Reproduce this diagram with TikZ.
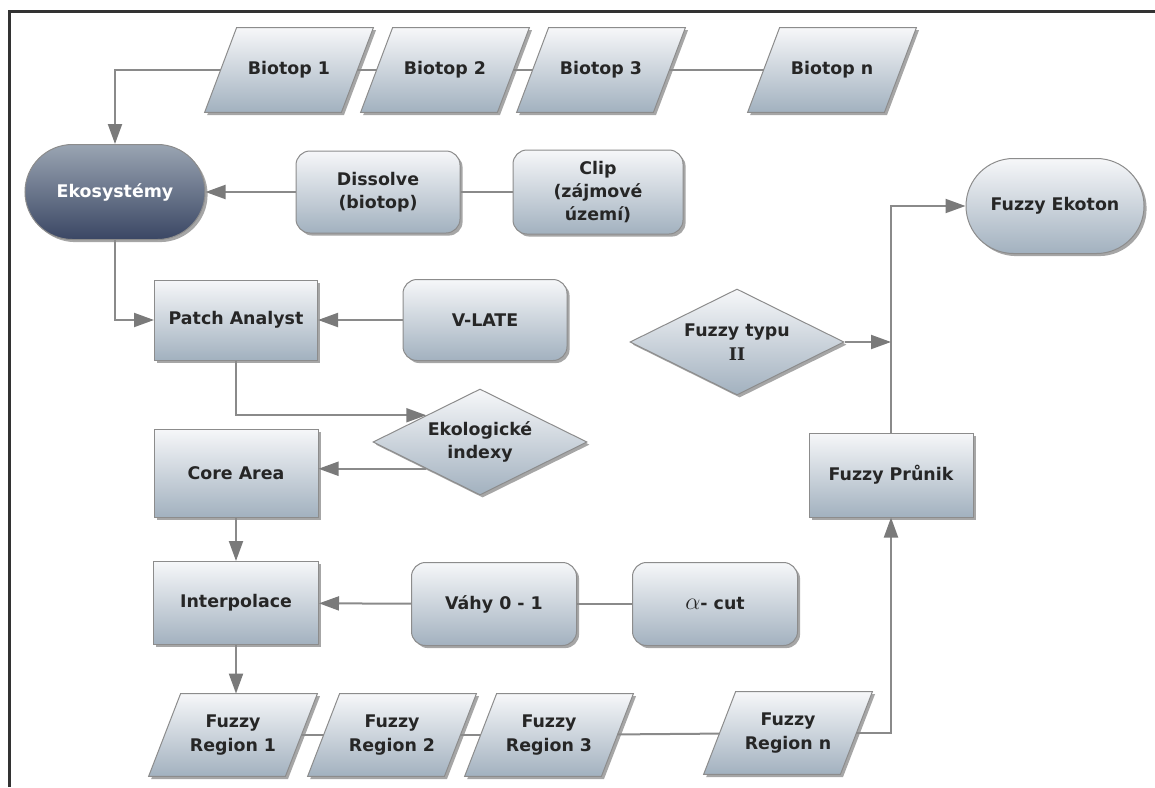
\documentclass[tikz,border=0pt]{standalone}
\usepackage{fontspec}
\setmainfont{DejaVu Sans}
\newfontfamily\serifb{DejaVu Serif}
\usetikzlibrary{shapes.geometric,shapes.misc,shadows,arrows.meta,calc,backgrounds}
\definecolor{boxtop}{HTML}{F6F7F9}
\definecolor{boxbot}{HTML}{A2B1BF}
\definecolor{boxline}{HTML}{8C8C8C}
\definecolor{ekotop}{HTML}{9AA4B2}
\definecolor{ekobot}{HTML}{3A4764}
\definecolor{conncol}{HTML}{8A8A8A}
\definecolor{tipcol}{HTML}{7A7A7A}
\definecolor{framecol}{HTML}{333333}
\begin{document}
\begin{tikzpicture}[x=0.5pt,y=-0.5pt,
  txt/.style={font=\fontsize{8.7}{11.7}\selectfont\bfseries, text=black!85, align=center, inner sep=0pt},
  fillstyle/.style={draw=boxline, line width=0.5pt, top color=boxtop, bottom color=boxbot,
    drop shadow={shadow xshift=1.3pt,shadow yshift=-1.3pt,opacity=0.35,fill=black}},
  base/.style={txt, fillstyle},
  rbox/.style={base, rectangle, rounded corners=7pt, minimum width=82pt, minimum height=41pt},
  sbox/.style={base, rectangle, minimum width=82pt, minimum height=41pt},
  ptext/.style={txt, rectangle, minimum width=68pt, minimum height=42pt},
  dia/.style={base, diamond, aspect=2, minimum width=107pt, minimum height=53pt},
  term/.style={base, rounded rectangle, minimum width=89pt, minimum height=47.5pt},
  conn/.style={draw=conncol, line width=1pt},
  arr/.style={conn, -{Triangle[length=10pt,width=7pt,color=tipcol]}}
]
\useasboundingbox (0,0) rectangle (1155,787);
\draw[framecol, line width=1.5pt] (9,787) -- (9,11) -- (1155,11);

% top row (parallelogram texts; shapes drawn on background)
\node[ptext] (b1) at (289,70) {Biotop 1};
\node[ptext] (b2) at (445,70) {Biotop 2};
\node[ptext] (b3) at (601,70) {Biotop 3};
\node[ptext] (bn) at (832,70) {Biotop n};

\node[term, top color=ekotop, bottom color=ekobot, text=white, minimum width=90pt] (eko) at (115,192) {Ekosystémy};
\node[rbox] (dis) at (378,192) {Dissolve\\(biotop)};
\node[rbox, minimum width=85pt, minimum height=42pt] (clip) at (598,192) {Clip\\(zájmové\\území)};
\node[term] (ekot) at (1055,206) {Fuzzy Ekoton};

\node[sbox, minimum width=81.5pt, minimum height=40pt] (pa) at (236,320) {Patch Analyst};
\node[rbox, minimum height=40.5pt] (vl) at (485,320) {V-LATE};
\node[dia] (fty) at (737,342) {Fuzzy typu\\{\serifb\bfseries II}};
\node[dia] (ekol) at (480,442) {Ekologické\\indexy};
\node[sbox, minimum height=44pt] (ca) at (236,473) {Core Area};
\node[sbox, minimum height=42pt] (pr) at (891,475) {Fuzzy Průnik};

\node[sbox, minimum width=82.5pt, minimum height=41.5pt] (int) at (236,603) {Interpolace};
\node[rbox, minimum width=82.5pt, minimum height=41.5pt] (vah) at (494,604) {Váhy 0 - 1};
\node[rbox, minimum width=82.5pt, minimum height=41.5pt] (acut) at (715,604) {{\fontsize{12}{12}\selectfont$\alpha$}- cut};

\node[ptext, minimum height=41pt] (r1) at (233,735) {Fuzzy\\Region 1};
\node[ptext, minimum height=41pt] (r2) at (392,735) {Fuzzy\\Region 2};
\node[ptext, minimum height=41pt] (r3) at (549,735) {Fuzzy\\Region 3};
\node[ptext, minimum height=41pt] (rn) at (788,733) {Fuzzy\\Region n};

\begin{scope}[on background layer]
\foreach \n in {b1,b2,b3,bn,r1,r2,r3,rn}
  \path[fillstyle] ($(\n.south west)+(-16,0)$) -- ($(\n.south east)+(-16,0)$)
     -- ($(\n.north east)+(16,0)$) -- ($(\n.north west)+(16,0)$) -- cycle;
\end{scope}

% connectors
\draw[conn] (b1) -- (b2);
\draw[conn] (b2) -- (b3);
\draw[conn] (b3) -- (bn);
\draw[arr] (b1.west) -| (eko.north);
\draw[arr] (dis.west) -- (dis.west -| eko.east);
\draw[conn] (dis) -- (clip);
\draw[arr] (eko.south) |- (pa.west);
\draw[arr] (vl) -- (pa);
\draw[arr] (pa.south) |- (ekol.north west);
\draw[arr] (ekol.south west) -- (ekol.south west -| ca.east);
\draw[arr] (ca) -- (int);
\draw[arr] (vah) -- (int);
\draw[conn] (vah) -- (acut);
\draw[arr] (int.south) -- (int.south |- r1.north);
\draw[conn] (r1) -- (r2);
\draw[conn] (r2) -- (r3);
\draw[conn] (r3) -- (rn);
\draw[arr] (rn.east) -| (pr.south);
\draw[arr] (pr.north) |- (ekot.west);
\draw[arr] (fty.east) -- (fty.east -| pr.north);
\end{tikzpicture}
\end{document}
